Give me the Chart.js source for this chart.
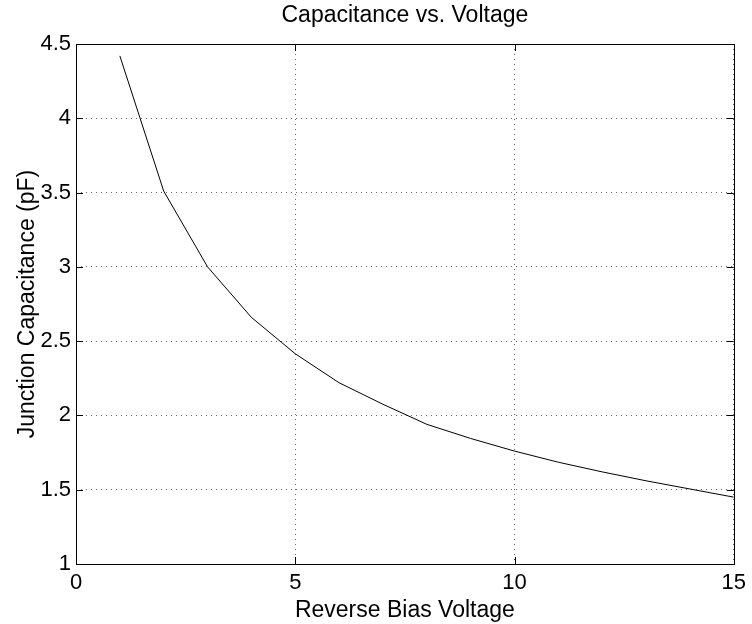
<!DOCTYPE html>
<html lang="en">
<head>
    <meta charset="UTF-8">
    <title>Capacitance vs. Voltage</title>
    <script src="https://cdn.jsdelivr.net/npm/chart.js"></script>
    <style>
        body {
            margin: 0;
            background-color: #fff;
        }
        #chartBox {
            width: 752px;
            height: 624px;
        }
    </style>
</head>
<body>
    <div id="chartBox">
        <canvas id="cvChart" width="752" height="624"></canvas>
    </div>

    <script>
        // Reverse bias voltage (V) and junction capacitance (pF)
        const voltages = [1, 2, 3, 4, 5, 6, 7, 8, 9, 10, 11, 12, 13, 14, 15];
        const capacitance = [4.42, 3.51, 3.00, 2.66, 2.415, 2.22, 2.075, 1.94, 1.845, 1.76, 1.685, 1.62, 1.56, 1.505, 1.45];

        const xTicks = [0, 5, 10, 15];
        const yTicks = [1, 1.5, 2, 2.5, 3, 3.5, 4, 4.5];

        const chartTitle = 'Capacitance vs. Voltage';
        const fontFamily = "'Liberation Sans', Arial, sans-serif";

        // frame around the plot, inward tick marks on all four sides, title centred over the axes
        const frameBox = {
            id: 'frameBox',
            afterDraw(chart) {
                const ctx = chart.ctx;
                const a = chart.chartArea;
                const xs = chart.scales.x;
                const ys = chart.scales.y;
                const len = 7;
                ctx.save();
                ctx.strokeStyle = '#000';
                ctx.lineWidth = 1;
                ctx.beginPath();
                xTicks.forEach(v => {
                    const px = Math.round(xs.getPixelForValue(v)) + 0.5;
                    ctx.moveTo(px, a.bottom);
                    ctx.lineTo(px, a.bottom - len);
                    ctx.moveTo(px, a.top);
                    ctx.lineTo(px, a.top + len);
                });
                yTicks.forEach(v => {
                    const py = Math.round(ys.getPixelForValue(v)) + 0.5;
                    ctx.moveTo(a.left, py);
                    ctx.lineTo(a.left + len, py);
                    ctx.moveTo(a.right, py);
                    ctx.lineTo(a.right - len, py);
                });
                ctx.stroke();
                ctx.strokeRect(Math.round(a.left) + 0.5, Math.round(a.top) + 0.5,
                    Math.round(a.right - a.left), Math.round(a.bottom - a.top));

                ctx.fillStyle = '#000';
                ctx.font = '23px ' + fontFamily;
                ctx.textAlign = 'center';
                ctx.textBaseline = 'middle';
                ctx.fillText(chartTitle, (a.left + a.right) / 2, 16);
                ctx.restore();
            }
        };

        const ctx = document.getElementById('cvChart').getContext('2d');
        new Chart(ctx, {
            type: 'line',
            data: {
                datasets: [{
                    data: voltages.map((v, i) => ({ x: v, y: capacitance[i] })),
                    borderColor: '#000',
                    borderWidth: 1,
                    pointRadius: 0,
                    tension: 0,
                    fill: false
                }]
            },
            options: {
                responsive: false,
                animation: false,
                devicePixelRatio: 1,
                layout: {
                    padding: { top: 44, right: 17, bottom: 0, left: 0 }
                },
                plugins: {
                    legend: { display: false },
                    tooltip: { enabled: false },
                    title: { display: false }
                },
                scales: {
                    x: {
                        type: 'linear',
                        min: 0,
                        max: 15,
                        afterFit(scale) { scale.height = 60; },
                        afterBuildTicks(scale) { scale.ticks = xTicks.map(v => ({ value: v })); },
                        ticks: {
                            color: '#000',
                            padding: 6,
                            maxRotation: 0,
                            font: { family: fontFamily, size: 22 },
                            callback: v => String(v)
                        },
                        grid: {
                            color: '#666',
                            lineWidth: 1,
                            drawTicks: false
                        },
                        border: { display: false, dash: [1, 4] },
                        title: {
                            display: true,
                            text: 'Reverse Bias Voltage',
                            color: '#000',
                            font: { family: fontFamily, size: 23 },
                            padding: { top: 0, bottom: 0 }
                        }
                    },
                    y: {
                        type: 'linear',
                        min: 1,
                        max: 4.5,
                        afterFit(scale) { scale.width = 76; },
                        afterBuildTicks(scale) { scale.ticks = yTicks.map(v => ({ value: v })); },
                        ticks: {
                            color: '#000',
                            padding: 5,
                            font: { family: fontFamily, size: 22 },
                            callback: v => String(v)
                        },
                        grid: {
                            color: '#666',
                            lineWidth: 1,
                            drawTicks: false
                        },
                        border: { display: false, dash: [1, 4] },
                        title: {
                            display: true,
                            text: 'Junction Capacitance (pF)',
                            color: '#000',
                            font: { family: fontFamily, size: 23 },
                            padding: { top: 14, bottom: 0 }
                        }
                    }
                }
            },
            plugins: [frameBox]
        });
    </script>
</body>
</html>
